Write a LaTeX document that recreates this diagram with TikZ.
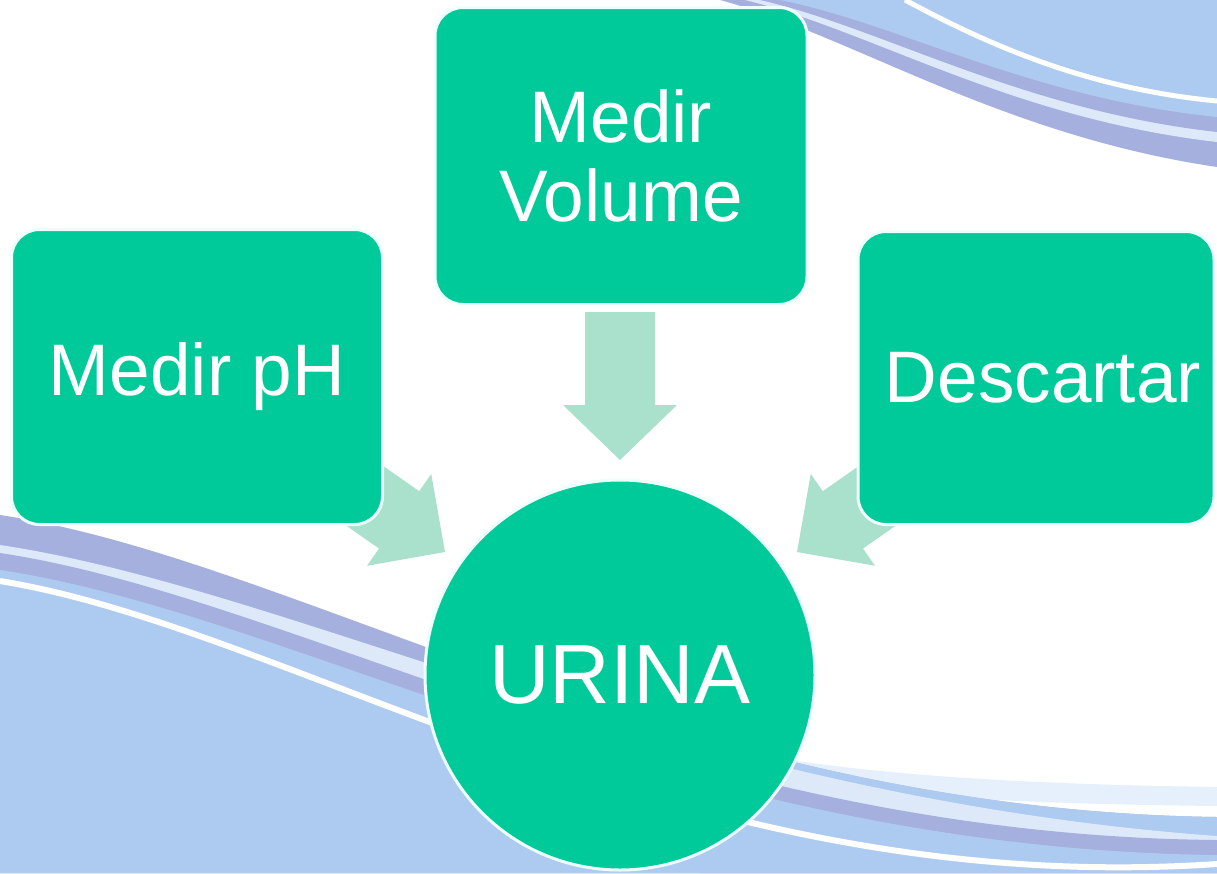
\documentclass[tikz,border=0pt]{standalone}
\usepackage{fontspec}
\setmainfont{Liberation Sans}
\definecolor{boxgreen}{RGB}{0,201,154}
\definecolor{arrowgreen}{RGB}{169,225,205}
\definecolor{peri}{RGB}{165,176,222}
\definecolor{lblue}{RGB}{173,203,240}
\definecolor{lstripe}{RGB}{221,233,249}
\definecolor{faint}{RGB}{230,240,252}
\definecolor{rimwhite}{RGB}{236,255,250}
\begin{document}
\begin{tikzpicture}[x=1pt,y=-1pt,
  box/.style={draw=rimwhite, line width=3pt, fill=boxgreen, rounded corners=28pt,
    text=white, font=\fontsize{73}{79}\selectfont, align=center, inner sep=0pt},
  hub/.style={circle, draw=rimwhite, line width=3pt, fill=boxgreen, text=white,
    font=\fontsize{84}{90}\selectfont, inner sep=0pt},
  blockarrow/.style={fill=arrowgreen}]
\useasboundingbox (0,0) rectangle (1217,873);
\fill[white] (0,0) rectangle (1217,873);
% ---------- top-right swoosh ----------
\fill[peri] (720,0) .. controls (850,35) and (1000,135) .. (1217,167) -- (1217,0) -- cycle;
\fill[lstripe] (745,0) .. controls (870,30) and (1010,118) .. (1217,142) -- (1217,0) -- cycle;
\fill[peri] (760,0) .. controls (880,27) and (1020,110) .. (1217,132) -- (1217,0) -- cycle;
\fill[lblue] (780,0) .. controls (900,24) and (1030,98) .. (1217,117) -- (1217,0) -- cycle;
\draw[white, line width=5pt] (905,0) .. controls (980,40) and (1080,88) .. (1217,101);
% ---------- bottom swoosh ----------
\fill[faint] (600,715) .. controls (750,768) and (950,783) .. (1217,787)
  -- (1217,806) .. controls (950,803) and (750,790) .. (600,740) -- cycle;
\fill[peri] (0,515) .. controls (300,560) and (680,810) .. (1217,817) -- (1217,873) -- (0,873) -- cycle;
\begin{scope}
  \clip (700,0) rectangle (1217,873);
  \fill[lblue] (0,515) .. controls (300,560) and (680,810) .. (1217,817) -- (1217,873) -- (0,873) -- cycle;
\end{scope}
\fill[lstripe] (0,545) .. controls (300,590) and (680,797) .. (1217,836) -- (1217,873) -- (0,873) -- cycle;
\fill[peri] (0,553) .. controls (300,598) and (680,835) .. (1217,840) -- (1217,873) -- (0,873) -- cycle;
\fill[lblue] (0,570) .. controls (300,615) and (680,849) .. (1217,855) -- (1217,873) -- (0,873) -- cycle;
\draw[white, line width=6pt] (0,581) .. controls (300,630) and (680,900) .. (1217,864);
% ---------- block arrows ----------
\begin{scope}[shift={(620,460)}, rotate=-90]
  \fill[blockarrow] (0,0) -- (-55,57) -- (-55,35) -- (-148,35) -- (-148,-35) -- (-55,-35) -- (-55,-57) -- cycle;
\end{scope}
\begin{scope}[shift={(445,552)}, rotate=-35]
  \fill[blockarrow] (0,0) -- (-56,56) -- (-56,35) -- (-170,35) -- (-170,-35) -- (-56,-35) -- (-56,-56) -- cycle;
\end{scope}
\begin{scope}[shift={(797,552)}, rotate=-145]
  \fill[blockarrow] (0,0) -- (-56,56) -- (-56,35) -- (-170,35) -- (-170,-35) -- (-56,-35) -- (-56,-56) -- cycle;
\end{scope}
% ---------- nodes ----------
\node[box, minimum width=372pt, minimum height=297pt] (vol) at (621,156) {Medir\\Volume};
\node[box, minimum width=371pt, minimum height=295pt] (ph) at (197,377) {Medir pH};
\node[box, minimum width=356pt, minimum height=293pt] (desc) at (1036,378) {\hspace*{14pt}Descartar};
\node[hub, minimum size=390pt] (urina) at (620,675) {URINA};
\end{tikzpicture}
\end{document}
